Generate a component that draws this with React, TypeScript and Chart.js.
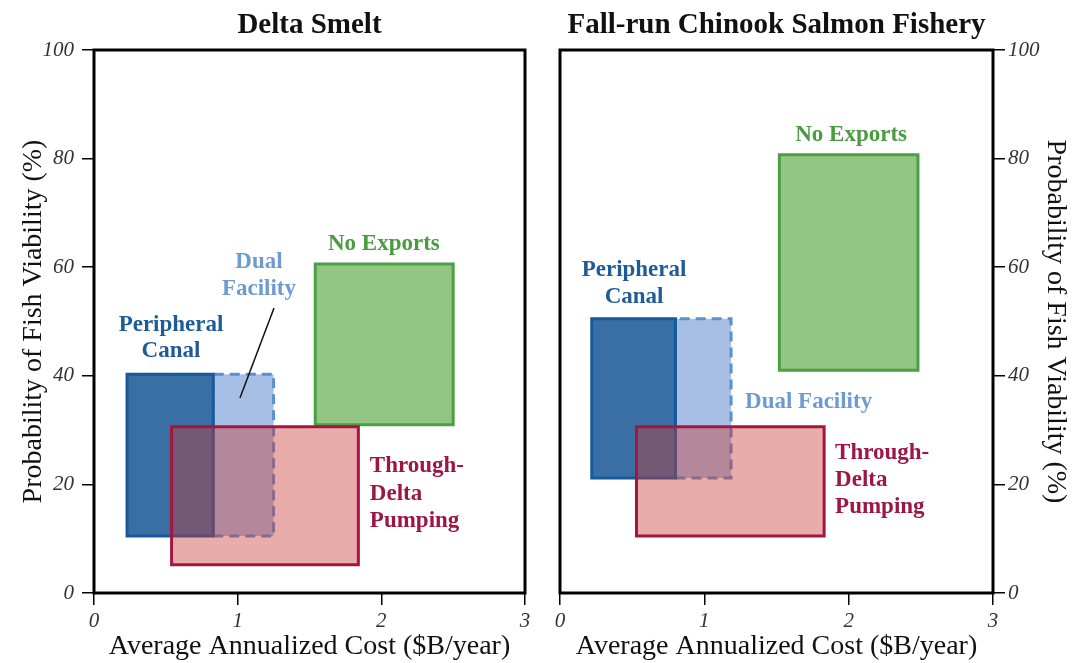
import React, { useEffect, useRef } from 'react';
import { Chart, registerables } from 'chart.js';

Chart.register(...registerables);

// ---------- data ----------
const categories = ['Peripheral Canal', 'Dual Facility', 'Through-Delta Pumping', 'No Exports'];
const xTicks = [0, 1, 2, 3];
const yTicks = [0, 20, 40, 60, 80, 100];

// Delta Smelt: cost range ($B/year) and viability range (%)
const smeltCostMin = [0.23, 0.83, 0.54, 1.54];
const smeltCostMax = [0.83, 1.25, 1.84, 2.5];
const smeltViabMin = [10.5, 10.5, 5.2, 31];
const smeltViabMax = [40.3, 40.3, 30.6, 60.6];

// Fall-run Chinook Salmon Fishery
const salmonCostMin = [0.22, 0.8, 0.53, 1.52];
const salmonCostMax = [0.8, 1.185, 1.83, 2.48];
const salmonViabMin = [21.2, 21.2, 10.5, 41];
const salmonViabMax = [50.5, 50.5, 30.6, 80.7];

// ---------- styles ----------
const fillColors = ['#3a6fa6', '#a7bfe4', 'rgba(200,57,50,0.41)', '#93c682'];
const borderColors = ['#155a9a', '#5b8fcb', '#a3173f', '#4e9e44'];
const labelColors = ['#1f5b97', '#6d9bd1', '#9c1744', '#4b9b40'];
const drawOrder = [1, 2, 0, 3];
const dashes = [[], [10, 6], [], []];

const SERIF = '"Liberation Serif", "Times New Roman", serif';

type Label = { text: string; cat: number; x: number; y: number; align: CanvasTextAlign };

function rectDatasets(cmin: number[], cmax: number[], vmin: number[], vmax: number[]) {
  return categories.map((name, i) => ({
    label: name,
    data: [
      { x: cmin[i], y: vmin[i] },
      { x: cmax[i], y: vmin[i] },
      { x: cmax[i], y: vmax[i] },
      { x: cmin[i], y: vmax[i] },
      { x: cmin[i], y: vmin[i] },
    ],
    showLine: true,
    fill: 'shape',
    backgroundColor: fillColors[i],
    borderColor: borderColors[i],
    borderWidth: 3,
    borderDash: dashes[i],
    borderJoinStyle: 'miter',
    borderCapStyle: dashes[i].length ? 'butt' : 'square',
    pointRadius: 0,
    tension: 0,
    order: drawOrder[i],
  }));
}

function annotPlugin(title: string, labels: Label[]) {
  return {
    id: 'annot',
    afterDatasetsDraw(chart: any) {
      const { ctx, chartArea, scales } = chart;
      ctx.save();
      ctx.strokeStyle = '#000';
      ctx.lineWidth = 3;
      ctx.strokeRect(chartArea.left, chartArea.top, chartArea.right - chartArea.left, chartArea.bottom - chartArea.top);
      ctx.font = `bold 23px ${SERIF}`;
      ctx.textBaseline = 'middle';
      for (const l of labels) {
        ctx.fillStyle = labelColors[l.cat];
        ctx.textAlign = l.align;
        ctx.fillText(l.text, scales.x.getPixelForValue(l.x), scales.y.getPixelForValue(l.y));
      }
      ctx.font = `bold 29px ${SERIF}`;
      ctx.fillStyle = '#111';
      ctx.textAlign = 'center';
      ctx.textBaseline = 'alphabetic';
      ctx.fillText(title, (chartArea.left + chartArea.right) / 2, 33);
      ctx.restore();
    },
  };
}

function makeOptions(side: 'left' | 'right') {
  const tickFont = { family: SERIF, size: 21, style: 'italic' as const };
  return {
    responsive: false,
    animation: false,
    devicePixelRatio: 1,
    layout: { padding: side === 'left' ? { left: 0, right: 15, top: 50, bottom: 0 } : { left: 20, right: 0, top: 50, bottom: 0 } },
    plugins: { legend: { display: false }, tooltip: { enabled: false }, title: { display: false } },
    scales: {
      x: {
        type: 'linear',
        min: 0,
        max: 3,
        afterBuildTicks: (s: any) => { s.ticks = xTicks.map((v) => ({ value: v })); },
        afterFit: (s: any) => { s.height = 70; },
        ticks: { font: tickFont, color: '#333', padding: 4 },
        grid: { drawOnChartArea: false, drawTicks: true, tickLength: 12, color: '#000', lineWidth: 1.5 },
        border: { display: false },
        title: {
          display: true,
          text: 'Average Annualized Cost ($B/year)',
          font: { family: SERIF, size: 28 },
          color: '#111',
          padding: { top: 0, bottom: 0 },
        },
      },
      y: {
        type: 'linear',
        position: side,
        min: 0,
        max: 100,
        afterBuildTicks: (s: any) => { s.ticks = yTicks.map((v) => ({ value: v })); },
        afterFit: (s: any) => { s.width = side === 'left' ? 94 : 83; },
        ticks: { font: tickFont, color: '#333', padding: side === 'left' ? 8 : 3 },
        grid: { drawOnChartArea: false, drawTicks: true, tickLength: 12, color: '#000', lineWidth: 1.5 },
        border: { display: false },
        title: {
          display: true,
          text: 'Probability of Fish Viability (%)',
          font: { family: SERIF, size: 28 },
          color: '#111',
          padding: { top: side === 'left' ? 17 : 4, bottom: 0 },
        },
      },
    },
  };
}

const smeltLabels: Label[] = [
  { text: 'Peripheral', cat: 0, x: 0.536, y: 49.4, align: 'center' },
  { text: 'Canal', cat: 0, x: 0.536, y: 44.6, align: 'center' },
  { text: 'Dual', cat: 1, x: 1.148, y: 61.0, align: 'center' },
  { text: 'Facility', cat: 1, x: 1.148, y: 56.0, align: 'center' },
  { text: 'No Exports', cat: 3, x: 2.018, y: 64.3, align: 'center' },
  { text: 'Through-', cat: 2, x: 1.92, y: 23.4, align: 'left' },
  { text: 'Delta', cat: 2, x: 1.92, y: 18.3, align: 'left' },
  { text: 'Pumping', cat: 2, x: 1.92, y: 13.3, align: 'left' },
];

const salmonLabels: Label[] = [
  { text: 'Peripheral', cat: 0, x: 0.513, y: 59.5, align: 'center' },
  { text: 'Canal', cat: 0, x: 0.513, y: 54.5, align: 'center' },
  { text: 'Dual Facility', cat: 1, x: 1.282, y: 35.2, align: 'left' },
  { text: 'No Exports', cat: 3, x: 2.017, y: 84.3, align: 'center' },
  { text: 'Through-', cat: 2, x: 1.906, y: 25.8, align: 'left' },
  { text: 'Delta', cat: 2, x: 1.906, y: 20.8, align: 'left' },
  { text: 'Pumping', cat: 2, x: 1.906, y: 15.8, align: 'left' },
];

// leader line from the "Dual Facility" label to its box (Delta Smelt panel)
const leaderX = [1.253, 1.016];
const leaderY = [52.5, 35.9];

export default function App() {
  const leftRef = useRef<HTMLCanvasElement>(null);
  const rightRef = useRef<HTMLCanvasElement>(null);

  useEffect(() => {
    const left = new Chart(leftRef.current as HTMLCanvasElement, {
      type: 'scatter',
      data: {
        datasets: [
          ...rectDatasets(smeltCostMin, smeltCostMax, smeltViabMin, smeltViabMax),
          {
            label: 'leader',
            data: leaderX.map((x, i) => ({ x, y: leaderY[i] })),
            showLine: true,
            fill: false,
            borderColor: '#111',
            borderWidth: 1.5,
            pointRadius: 0,
            order: -1,
          },
        ],
      } as any,
      options: makeOptions('left') as any,
      plugins: [annotPlugin('Delta Smelt', smeltLabels)],
    });
    const right = new Chart(rightRef.current as HTMLCanvasElement, {
      type: 'scatter',
      data: { datasets: rectDatasets(salmonCostMin, salmonCostMax, salmonViabMin, salmonViabMax) } as any,
      options: makeOptions('right') as any,
      plugins: [annotPlugin('Fall-run Chinook Salmon Fishery', salmonLabels)],
    });
    return () => {
      left.destroy();
      right.destroy();
    };
  }, []);

  return (
    <div style={{ position: 'absolute', left: 0, top: 0, width: 1076, height: 663, background: '#fff' }}>
      <canvas ref={leftRef} width={540} height={663} style={{ position: 'absolute', left: 0, top: 0 }} />
      <canvas ref={rightRef} width={536} height={663} style={{ position: 'absolute', left: 540, top: 0 }} />
    </div>
  );
}
